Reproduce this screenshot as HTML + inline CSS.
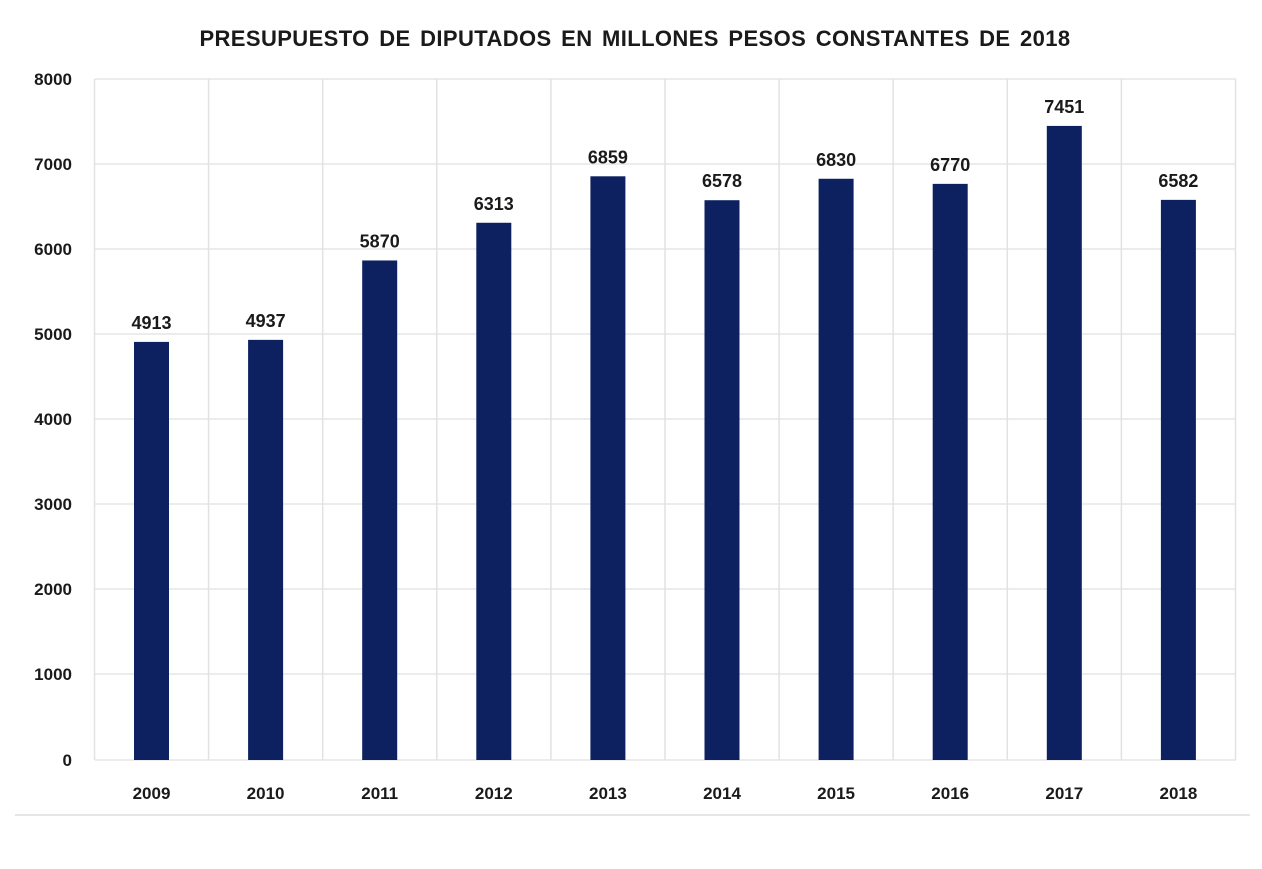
<!DOCTYPE html>
<html><head><meta charset="utf-8"><style>
body{margin:0;background:#fff;}
svg text{font-family:"Liberation Sans",sans-serif;font-weight:bold;fill:#1a1a1a;}
</style></head><body>
<svg width="1262" height="864" xmlns="http://www.w3.org/2000/svg">
<text x="635" y="46" font-size="22" text-anchor="middle" letter-spacing="0.4" word-spacing="3">PRESUPUESTO DE DIPUTADOS EN MILLONES PESOS CONSTANTES DE 2018</text>
<g stroke="#e6e6e6" stroke-width="1.5">
<line x1="95" y1="79" x2="1236" y2="79"/>
<line x1="95" y1="164" x2="1236" y2="164"/>
<line x1="95" y1="249" x2="1236" y2="249"/>
<line x1="95" y1="334" x2="1236" y2="334"/>
<line x1="95" y1="419" x2="1236" y2="419"/>
<line x1="95" y1="504" x2="1236" y2="504"/>
<line x1="95" y1="589" x2="1236" y2="589"/>
<line x1="95" y1="674" x2="1236" y2="674"/>
<line x1="95" y1="760" x2="1236" y2="760"/>
</g>
<g stroke="#e2e2e2" stroke-width="1.5" id="vg"></g>
<line x1="15" y1="815" x2="1250" y2="815" stroke="#e6e6e6" stroke-width="2"/>
<g font-size="17" text-anchor="end">
<text x="72" y="85">8000</text><text x="72" y="170">7000</text><text x="72" y="255">6000</text>
<text x="72" y="340">5000</text><text x="72" y="425">4000</text><text x="72" y="510">3000</text>
<text x="72" y="595">2000</text><text x="72" y="680">1000</text><text x="72" y="766">0</text>
</g>
<g id="bars"></g>
<script>
var d=[4913,4937,5870,6313,6859,6578,6830,6770,7451,6582],ns="http://www.w3.org/2000/svg";
var g=document.getElementById('bars'),vg=document.getElementById('vg');
for(var i=0;i<=10;i++){var l=document.createElementNS(ns,'line');var x=94.5+i*114.1;l.setAttribute('x1',x);l.setAttribute('x2',x);l.setAttribute('y1',79);l.setAttribute('y2',760);vg.appendChild(l);}
d.forEach(function(v,i){var c=94.5+57+i*114.1,h=v*0.0851,y=760-h;
var r=document.createElementNS(ns,'rect');r.setAttribute('x',c-17.5);r.setAttribute('y',y);r.setAttribute('width',35);r.setAttribute('height',h);r.setAttribute('fill','#0d2160');g.appendChild(r);
var t=document.createElementNS(ns,'text');t.setAttribute('x',c);t.setAttribute('y',y-13);t.setAttribute('font-size','18');t.setAttribute('text-anchor','middle');t.textContent=v;g.appendChild(t);
var t2=document.createElementNS(ns,'text');t2.setAttribute('x',c);t2.setAttribute('y',799);t2.setAttribute('font-size','17');t2.setAttribute('text-anchor','middle');t2.textContent=2009+i;g.appendChild(t2);});
</script>
</svg>
</body></html>
